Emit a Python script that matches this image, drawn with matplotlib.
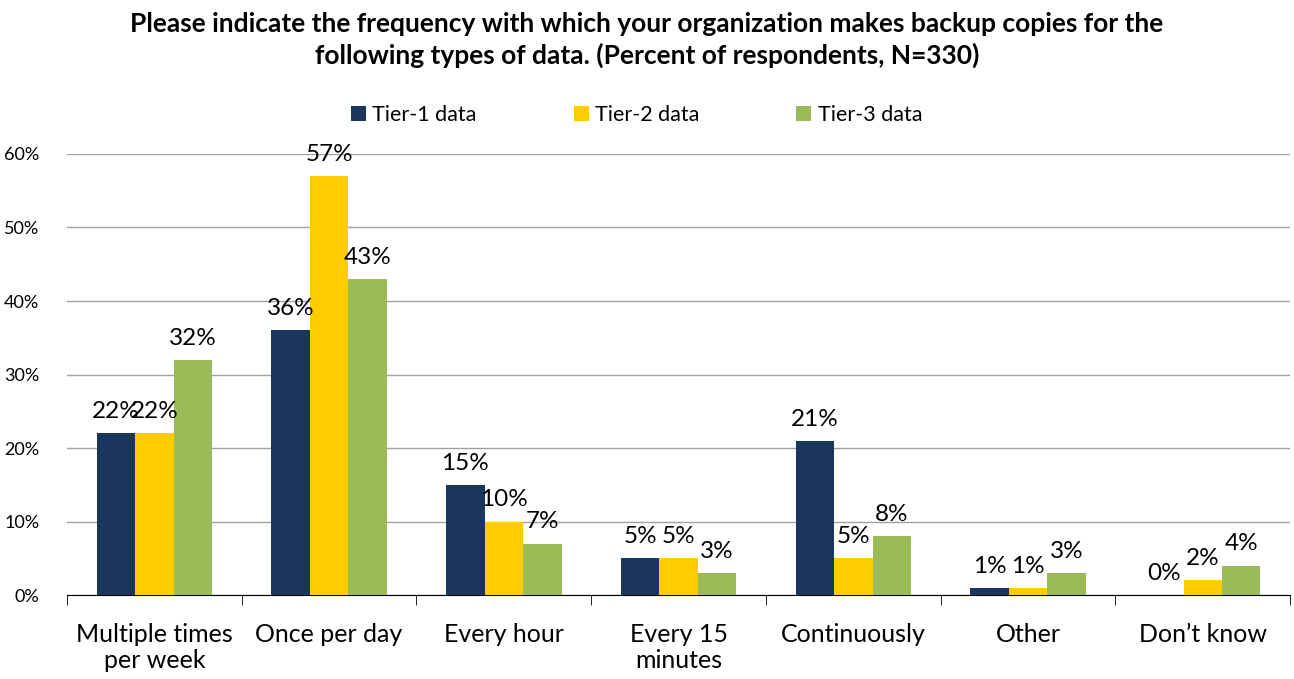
import numpy as np
import matplotlib
matplotlib.use("Agg")
from matplotlib import pyplot as plt

plt.rcParams['font.family'] = ['Lato', 'DejaVu Sans']

# data
categorias = ["Multiple times\nper week", "Once per day", "Every hour",
              "Every 15\nminutes", "Continuously", "Other", "Don\u2019t know"]
series = ["Tier-1 data", "Tier-2 data", "Tier-3 data"]
tier1 = [22, 36, 15, 5, 21, 1, 0]
tier2 = [22, 57, 10, 5, 5, 1, 2]
tier3 = [32, 43, 7, 3, 8, 3, 4]
colores = ["#1b365d", "#ffcc00", "#9bbb59"]

fig = plt.figure()
fig.set_dpi(100)
fig.set_size_inches(12.94, 6.79)

ax = fig.add_axes([0.0518, 0.1237, 0.9452, 0.6495])

x = np.arange(len(categorias))
ancho = 0.22
valores = [tier1, tier2, tier3]
for k, (vals, nombre, col) in enumerate(zip(valores, series, colores)):
    pos = x + (k - 1) * ancho
    ax.bar(pos, vals, ancho, color=col, label=nombre, zorder=3)
    for px, v in zip(pos, vals):
        ax.annotate("%d%%" % v, (px, v), xytext=(0, 8), textcoords="offset points",
                    ha="center", va="bottom", fontsize=17.5, color="black", zorder=4)

ax.set_xlim(-0.5, len(categorias) - 0.5)
ax.set_ylim(0, 60)
ax.set_yticks(np.arange(0, 61, 10))
ax.set_yticklabels(["%d%%" % v for v in range(0, 61, 10)], fontsize=13)
ax.tick_params(axis="y", length=0, pad=20)
ax.yaxis.grid(True, color="#a0a0a0", linewidth=1, zorder=0)

ax.set_xticks(x)
ax.set_xticklabels(categorias, fontsize=18, linespacing=1.15)
ax.tick_params(axis="x", length=0, pad=20)
ax.set_xticks(np.arange(-0.5, len(categorias)), minor=True)
ax.tick_params(axis="x", which="minor", length=7, direction="out", color="black")

for lado in ["top", "right", "left"]:
    ax.spines[lado].set_visible(False)
ax.spines["bottom"].set_color("black")

fig.text(0.5, 0.941, "Please indicate the frequency with which your organization makes backup copies for the\nfollowing types of data. (Percent of respondents, N=330)",
         ha="center", va="center", fontsize=19, fontweight="bold", linespacing=1.35)

fig.legend(loc="center", bbox_to_anchor=(0.492, 0.83), ncol=3, frameon=False,
           fontsize=15.5, handlelength=0.7, handleheight=0.7, columnspacing=4.5,
           handletextpad=0.3)

fig.savefig("out.png", dpi=100)
